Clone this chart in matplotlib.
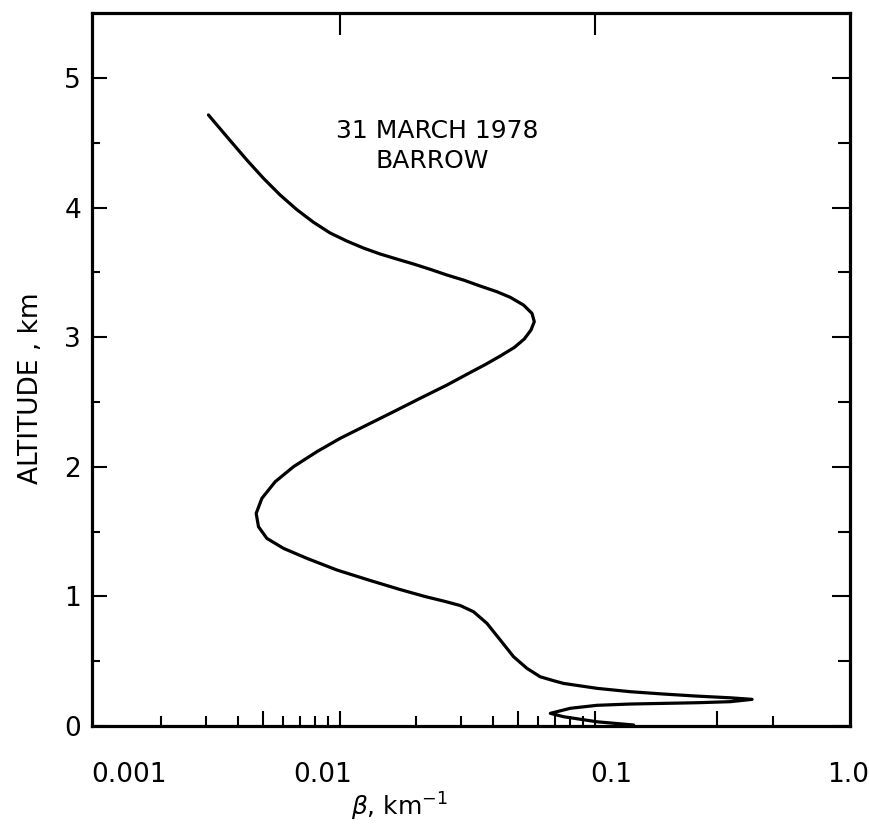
import matplotlib
matplotlib.use("Agg")
import matplotlib.pyplot as plt
from matplotlib.ticker import FixedLocator, NullFormatter
from matplotlib import transforms

# ---- data (beta in km^-1, altitude in km) ----
beta = [0.003058, 0.003612, 0.004327, 0.005026, 0.005844, 0.006795, 0.007892, 0.009177,
        0.010671, 0.012396, 0.014413, 0.016756, 0.019474, 0.022641, 0.026322, 0.030581,
        0.035556, 0.041345, 0.046631, 0.052580, 0.056731, 0.057919, 0.056218, 0.052901,
        0.048343, 0.042597, 0.037193, 0.032496, 0.026322, 0.020683, 0.016253, 0.012787,
        0.010044, 0.008138, 0.006589, 0.005585, 0.004954, 0.004705, 0.004804, 0.005182,
        0.006021, 0.007437, 0.009751, 0.013172, 0.017271, 0.021646, 0.025937, 0.029682,
        0.033470, 0.037782, 0.042597, 0.048032, 0.054217, 0.061140, 0.068929, 0.075435,
        0.10200, 0.13782, 0.18607, 0.25166, 0.34005, 0.41366, 0.34005, 0.25166,
        0.18607, 0.13782, 0.10200, 0.080154, 0.066918, 0.075435, 0.10200, 0.14199]
altitude = [4.715, 4.547, 4.367, 4.226, 4.097, 3.984, 3.887, 3.804,
            3.742, 3.688, 3.642, 3.603, 3.565, 3.524, 3.480, 3.441,
            3.395, 3.351, 3.308, 3.248, 3.184, 3.120, 3.056, 2.986,
            2.921, 2.855, 2.789, 2.728, 2.631, 2.529, 2.425, 2.323,
            2.220, 2.117, 2.001, 1.885, 1.757, 1.641, 1.538, 1.448,
            1.371, 1.294, 1.204, 1.123, 1.053, 0.999, 0.961, 0.930,
            0.882, 0.792, 0.664, 0.535, 0.445, 0.380, 0.350, 0.329,
            0.291, 0.265, 0.247, 0.231, 0.218, 0.206, 0.188, 0.180,
            0.175, 0.170, 0.160, 0.137, 0.098, 0.072, 0.033, 0.008]

x_label_values = [0.001, 0.01, 0.1, 1.0]
x_label_texts = ["0.001", "0.01", "0.1", "1.0"]
y_tick_values = [0, 1, 2, 3, 4, 5]
y_tick_texts = ["0", "1", "2", "3", "4", "5"]
annotation_lines = ["31 MARCH 1978", "BARROW"]

plt.rcParams['font.family'] = ['DejaVu Sans']

fig = plt.figure(figsize=(8.69, 8.26), dpi=100)
ax = fig.add_axes([0.106, 0.121, 0.872, 0.863])
ax.plot(beta, altitude, color='black', lw=2.3, solid_joinstyle='round',
        solid_capstyle='round')
ax.set_xscale('log')
ax.set_xlim(0.00107, 1.0)
ax.set_ylim(0, 5.5)

for s in ax.spines.values():
    s.set_linewidth(2.3)

# bottom ticks
ax.xaxis.set_major_locator(FixedLocator([0.005, 0.01, 0.05, 0.1, 0.3]))
ax.xaxis.set_minor_locator(FixedLocator([0.002, 0.003, 0.004, 0.006, 0.007, 0.008, 0.009,
                                         0.02, 0.03, 0.04, 0.06, 0.07, 0.08, 0.09, 0.5]))
ax.xaxis.set_major_formatter(NullFormatter())
ax.xaxis.set_minor_formatter(NullFormatter())
ax.tick_params(axis='x', which='major', direction='in', length=11, width=1.5)
ax.tick_params(axis='x', which='minor', direction='in', length=7, width=1.5)

# left ticks
ax.set_yticks(y_tick_values)
ax.set_yticklabels(y_tick_texts)
ax.yaxis.set_minor_locator(FixedLocator([0.5, 1.5, 2.5, 3.5, 4.5]))
ax.tick_params(axis='y', which='major', direction='in', length=11, width=1.5,
               labelsize=19, pad=8)
ax.tick_params(axis='y', which='minor', direction='in', length=6, width=1.5)

# right ticks
axr = ax.twinx()
axr.set_ylim(0, 5.5)
axr.set_yticks(y_tick_values)
axr.yaxis.set_minor_locator(FixedLocator([0.5, 1.5, 2.5, 3.5, 4.5]))
axr.yaxis.set_major_formatter(NullFormatter())
axr.tick_params(axis='y', which='major', direction='in', length=13, width=1.5)
axr.tick_params(axis='y', which='minor', direction='in', length=9, width=1.5)
for s in axr.spines.values():
    s.set_visible(False)

# top ticks
axt = ax.twiny()
axt.set_xscale('log')
axt.set_xlim(0.00107, 1.0)
axt.xaxis.set_major_locator(FixedLocator([0.01, 0.1]))
axt.xaxis.set_minor_locator(FixedLocator([]))
axt.xaxis.set_major_formatter(NullFormatter())
axt.tick_params(axis='x', which='major', direction='in', length=16, width=1.5)
for s in axt.spines.values():
    s.set_visible(False)

# x labels (placed below their decades)
offsets_px = [44, -17, 16, -2]
blend = transforms.blended_transform_factory(ax.transData, ax.transAxes)
for v, t, dx in zip(x_label_values, x_label_texts, offsets_px):
    tr = transforms.offset_copy(blend, fig=fig, x=dx, y=0, units='dots')
    ax.text(v, -0.069, t, transform=tr, ha='center', va='center', fontsize=19,
            clip_on=False)

ax.set_xlabel(r"$\beta$, km$^{-1}$", fontsize=18)
ax.xaxis.set_label_coords(0.406, -0.091)
ax.set_ylabel("ALTITUDE , km", fontsize=19)
ax.yaxis.set_label_coords(-0.064, 0.474)

ax.text(0.456, 0.835, annotation_lines[0], transform=ax.transAxes, ha='center',
        va='center', fontsize=18)
ax.text(0.449, 0.792, annotation_lines[1], transform=ax.transAxes, ha='center',
        va='center', fontsize=18)

fig.savefig("out.png", dpi=100)
